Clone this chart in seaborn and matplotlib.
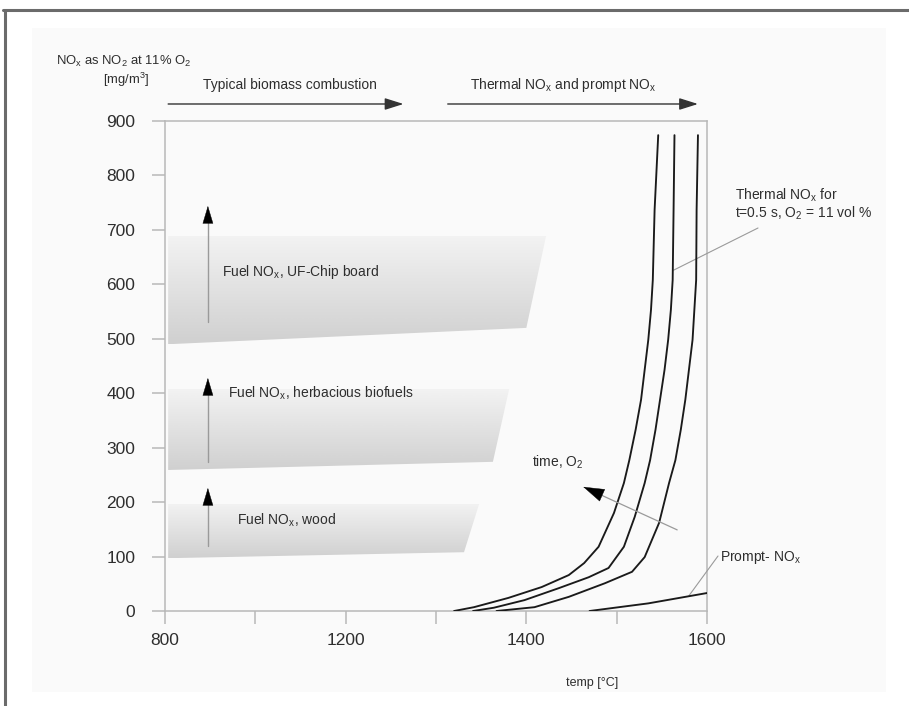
import numpy as np
import pandas as pd
import matplotlib
matplotlib.use("Agg")
import matplotlib.pyplot as plt
import seaborn as sns
from matplotlib.patches import Polygon, Rectangle
from matplotlib.lines import Line2D
from matplotlib.colors import LinearSegmentedColormap

# ---------------------------------------------------------------- data
# thermal NOx curves (temperature in deg C, NOx in mg/m3)
thermal_a_temp = [1320, 1342, 1380, 1417, 1447, 1464, 1480, 1497, 1508, 1514, 1521,
                  1527, 1531, 1535, 1538, 1540, 1542, 1546]
thermal_a_nox = [0, 7, 24, 44, 66, 88, 118, 180, 235, 277, 333,
                 388, 443, 498, 553, 608, 737, 874]
thermal_b_temp = [1341, 1364, 1398, 1436, 1469, 1491, 1508, 1520, 1531, 1537, 1543,
                  1548, 1553, 1557, 1560, 1562, 1563, 1564]
thermal_b_nox = [0, 6, 20, 42, 62, 79, 118, 173, 235, 277, 333,
                 388, 443, 498, 553, 608, 737, 874]
thermal_c_temp = [1367, 1409, 1447, 1487, 1517, 1531, 1547, 1558, 1565, 1571, 1576,
                  1580, 1584, 1586, 1588, 1588.5, 1590]
thermal_c_nox = [0, 7, 26, 51, 72, 99, 162, 235, 277, 333, 388,
                 443, 498, 553, 608, 737, 874]
prompt_temp = [1470, 1535, 1600]
prompt_nox = [0, 14, 33]

# fuel NOx ranges: left temp, right-top temp, right-bottom temp and NOx levels
band_names = ["Fuel NO$_x$, UF-Chip board", "Fuel NO$_x$, herbacious biofuels", "Fuel NO$_x$, wood"]
band_temp_left = [807, 807, 807]
band_temp_right_top = [1422, 1381, 1348]
band_temp_right_bottom = [1400, 1363, 1331]
band_nox_bottom_left = [490, 259, 97]
band_nox_bottom_right = [520, 274, 108]
band_nox_top = [690, 408, 198]

x_ticks = [800, 1000, 1200, 1300, 1400, 1500, 1600]
x_tick_labels = ["800", "", "1200", "", "1400", "", "1600"]
y_ticks = [0, 100, 200, 300, 400, 500, 600, 700, 800, 900]

# ---------------------------------------------------------------- style
sns.set_theme(style="white")
plt.rcParams["font.family"] = ["Liberation Sans", "DejaVu Sans"]
plt.rcParams["mathtext.fontset"] = "custom"
plt.rcParams["mathtext.rm"] = "Liberation Sans"
plt.rcParams["mathtext.default"] = "regular"

TEXT = "#2e2e2e"
AXIS = "#b8b8b8"


def fwd(t):
    t = np.asarray(t, dtype=float)
    return np.where(t < 1200, (t - 800) / 200.0, 2 + (t - 1200) / 100.0)


def inv(p):
    p = np.asarray(p, dtype=float)
    return np.where(p < 2, 800 + 200.0 * p, 1200 + 100.0 * (p - 2))


W, H = 909, 706
fig = plt.figure(figsize=(W / 100, H / 100), dpi=100, facecolor="white")
fig.patches.append(Rectangle((32 / W, 1 - 692 / H), (886 - 32) / W, (692 - 28) / H,
                             transform=fig.transFigure, facecolor="#fafafa",
                             edgecolor="none", zorder=-10))
fig.add_artist(Line2D([4.7 / W, 4.7 / W], [0, 1 - 10 / H], transform=fig.transFigure,
                      color="#6b6b6b", lw=2.2))
fig.add_artist(Line2D([3 / W, 1], [1 - 10 / H, 1 - 10 / H], transform=fig.transFigure,
                      color="#6b6b6b", lw=2.2))

ax = fig.add_axes([165 / W, 1 - 611 / H, (707 - 165) / W, (611 - 121) / H])
ax.set_facecolor("none")
ax.set_xscale("function", functions=(fwd, inv))

# ---------------------------------------------------------------- fuel NOx bands
band_cmap = LinearSegmentedColormap.from_list("band", ["#d0d0d0", "#f3f3f3"])
grad = np.linspace(0, 1, 256).reshape(-1, 1)
for i in range(len(band_names)):
    verts = [(band_temp_left[i], band_nox_bottom_left[i]),
             (band_temp_left[i], band_nox_top[i]),
             (band_temp_right_top[i], band_nox_top[i]),
             (band_temp_right_bottom[i], band_nox_bottom_right[i])]
    poly = Polygon(verts, closed=True, transform=ax.transData,
                   facecolor="none", edgecolor="none")
    ax.add_patch(poly)
    lo = min(band_nox_bottom_left[i], band_nox_bottom_right[i])
    im = ax.imshow(grad, extent=[800, 1600, lo, band_nox_top[i]], origin="lower",
                   cmap=band_cmap, aspect="auto", zorder=1, interpolation="bilinear")
    im.set_clip_path(poly)

# vertical arrows inside the bands
arrow_x = 895
arrow_base = [531, 274, 119]
arrow_tip = [744, 428, 226]
for b, t in zip(arrow_base, arrow_tip):
    ax.plot([arrow_x, arrow_x], [b, t - 20], color="#9a9a9a", lw=1.0, zorder=2)
    ax.annotate("", xy=(arrow_x, t), xytext=(arrow_x, t - 24),
                arrowprops=dict(arrowstyle="-|>,head_length=1.0,head_width=0.3",
                                color="black", lw=0.3, shrinkA=0, shrinkB=0),
                zorder=3)

band_label_temp = [927, 940, 960]
band_label_nox = [623, 400, 167]
for name, tx, ny in zip(band_names, band_label_temp, band_label_nox):
    ax.text(tx, ny, name, fontsize=10, color=TEXT, va="center", ha="left", zorder=4)

# ---------------------------------------------------------------- curves
curves = pd.concat([
    pd.DataFrame({"temp": thermal_a_temp, "nox": thermal_a_nox, "curve": "a"}),
    pd.DataFrame({"temp": thermal_b_temp, "nox": thermal_b_nox, "curve": "b"}),
    pd.DataFrame({"temp": thermal_c_temp, "nox": thermal_c_nox, "curve": "c"}),
    pd.DataFrame({"temp": prompt_temp, "nox": prompt_nox, "curve": "prompt"}),
], ignore_index=True)
sns.lineplot(data=curves, x="temp", y="nox", hue="curve", units="curve",
             palette=["#1a1a1a"] * 4, estimator=None, sort=False, legend=False,
             lw=1.35, ax=ax, zorder=5)

# ---------------------------------------------------------------- axes
ax.set_xlim(800, 1600)
ax.set_ylim(0, 900)
ax.set_xticks(x_ticks)
ax.set_xticklabels(x_tick_labels)
ax.set_yticks(y_ticks)
ax.set_xlabel("")
ax.set_ylabel("")
ax.tick_params(axis="both", which="both", bottom=True, left=True, direction="out",
               length=9.5, width=1.1, color=AXIS, labelsize=12.5, labelcolor=TEXT)
ax.tick_params(axis="y", pad=12)
ax.tick_params(axis="x", pad=6)
for s in ax.spines.values():
    s.set_visible(True)
    s.set_color(AXIS)
    s.set_linewidth(1.1)

# ---------------------------------------------------------------- annotations
fig.text(124 / W, 1 - 61.5 / H, "NO$_x$ as NO$_2$ at 11% O$_2$", fontsize=9.4,
         color=TEXT, ha="center", va="center")
fig.text(126 / W, 1 - 79.5 / H, "[mg/m$^3$]", fontsize=9.4, color=TEXT,
         ha="center", va="center")
fig.text(592 / W, 1 - 683 / H, "temp [°C]", fontsize=9, color=TEXT,
         ha="center", va="center")

top_tr = ax.get_xaxis_transform()
ax.text(884, 1.0735, "Typical biomass combustion", transform=top_tr, fontsize=10,
        color=TEXT, ha="left", va="center")
ax.text(1338, 1.0735, "Thermal NO$_x$ and prompt NO$_x$", transform=top_tr,
        fontsize=10, color=TEXT, ha="left", va="center")
for x0, x1 in [(807, 1264), (1313, 1590)]:
    ax.annotate("", xy=(x1, 1.0347), xytext=(x0, 1.0347), xycoords=top_tr,
                textcoords=top_tr, annotation_clip=False,
                arrowprops=dict(arrowstyle="-|>,head_length=0.95,head_width=0.3",
                                color="#333333", lw=1.0, shrinkA=0, shrinkB=0))

# time / O2 arrow
ax.annotate("", xy=(1463, 228), xytext=(1567, 149),
            arrowprops=dict(arrowstyle="-", color="#9a9a9a", lw=0.9,
                            shrinkA=0, shrinkB=8), zorder=6)
ax.annotate("", xy=(1463, 228), xytext=(1478, 217),
            arrowprops=dict(arrowstyle="-|>,head_length=1.2,head_width=0.38",
                            color="black", lw=0.3, shrinkA=0, shrinkB=0), zorder=6)
ax.text(1406, 274, "time, O$_2$", fontsize=10, color=TEXT, ha="left", va="center")

# leader lines to side labels
ax.annotate("", xy=(1563, 626), xytext=(758 / W, 1 - 228 / H),
            textcoords="figure fraction", annotation_clip=False,
            arrowprops=dict(arrowstyle="-", color="#9a9a9a", lw=0.8,
                            shrinkA=0, shrinkB=0))
ax.annotate("", xy=(1580, 28), xytext=(718 / W, 1 - 556 / H),
            textcoords="figure fraction", annotation_clip=False,
            arrowprops=dict(arrowstyle="-", color="#9a9a9a", lw=0.8,
                            shrinkA=0, shrinkB=0))
fig.text(735 / W, 1 - 195 / H, "Thermal NO$_x$ for", fontsize=10, color=TEXT,
         ha="left", va="center")
fig.text(735 / W, 1 - 213 / H, "t=0.5 s, O$_2$ = 11 vol %", fontsize=10, color=TEXT,
         ha="left", va="center")
fig.text(720 / W, 1 - 557 / H, "Prompt- NO$_x$", fontsize=10, color=TEXT,
         ha="left", va="center")

fig.savefig("out.png", dpi=100, facecolor=fig.get_facecolor())
